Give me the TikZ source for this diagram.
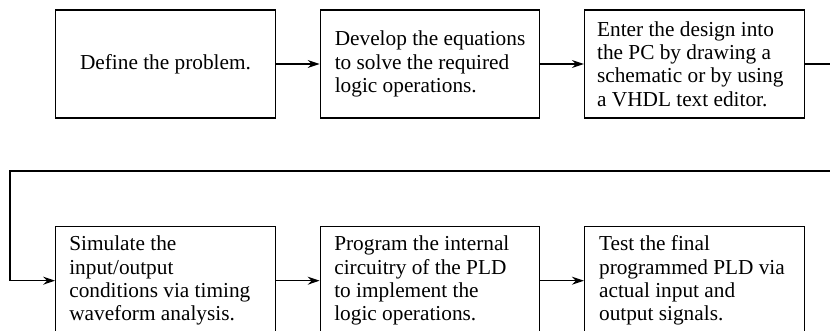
\documentclass[tikz,border=0pt]{standalone}
\usepackage{fontspec}
\setmainfont{Liberation Serif}
\usetikzlibrary{arrows.meta}
\begin{document}
\begin{tikzpicture}[x=1pt,y=-1pt,
  stepbox/.style={draw, line width=1.2pt, minimum width=219.6pt, minimum height=108pt, inner sep=0pt},
  steptext/.style={anchor=west, align=left, inner sep=0pt, font=\fontsize{21.3}{23.3}\selectfont},
  flow/.style={line width=1.2pt, -{Stealth[length=12pt,width=8pt,inset=4pt]}}]
  \useasboundingbox (0,0) rectangle (830,331);
  \clip (0,0) rectangle (830,331);

  % top row
  \node[stepbox, font=\fontsize{21.3}{23.3}\selectfont] (b1) at (165.5,64) {Define the problem.};
  \node[stepbox] (b2) at (430,64) {};
  \node[stepbox] (b3) at (694.3,64) {};
  \node[steptext] (t2) at ([xshift=15pt]b2.west) {Develop the equations\\to solve the required\\logic operations.};
  \node[steptext] (t3) at ([xshift=13pt]b3.west) {Enter the design into\\the PC by drawing a\\schematic or by using\\a VHDL text editor.};

  % bottom row
  \node[stepbox] (b4) at (165.5,280.7) {};
  \node[stepbox] (b5) at (430,280.7) {};
  \node[stepbox] (b6) at (694.3,280.7) {};
  \node[steptext] (t4) at ([xshift=14pt]b4.west) {Simulate the\\input/output\\conditions via timing\\waveform analysis.};
  \node[steptext] (t5) at ([xshift=14.5pt]b5.west) {Program the internal\\circuitry of the PLD\\to implement the\\logic operations.};
  \node[steptext] (t6) at ([xshift=15pt]b6.west) {Test the final\\programmed PLD via\\actual input and\\output signals.};

  % connectors
  \coordinate (rr) at (850,171);
  \coordinate (ll) at (10,171);
  \draw[flow] (b1) -- (b2);
  \draw[flow] (b2) -- (b3);
  \draw[flow] (b3.east) -| (rr) -- (ll) |- (b4.west);
  \draw[flow] (b4) -- (b5);
  \draw[flow] (b5) -- (b6);
\end{tikzpicture}
\end{document}
